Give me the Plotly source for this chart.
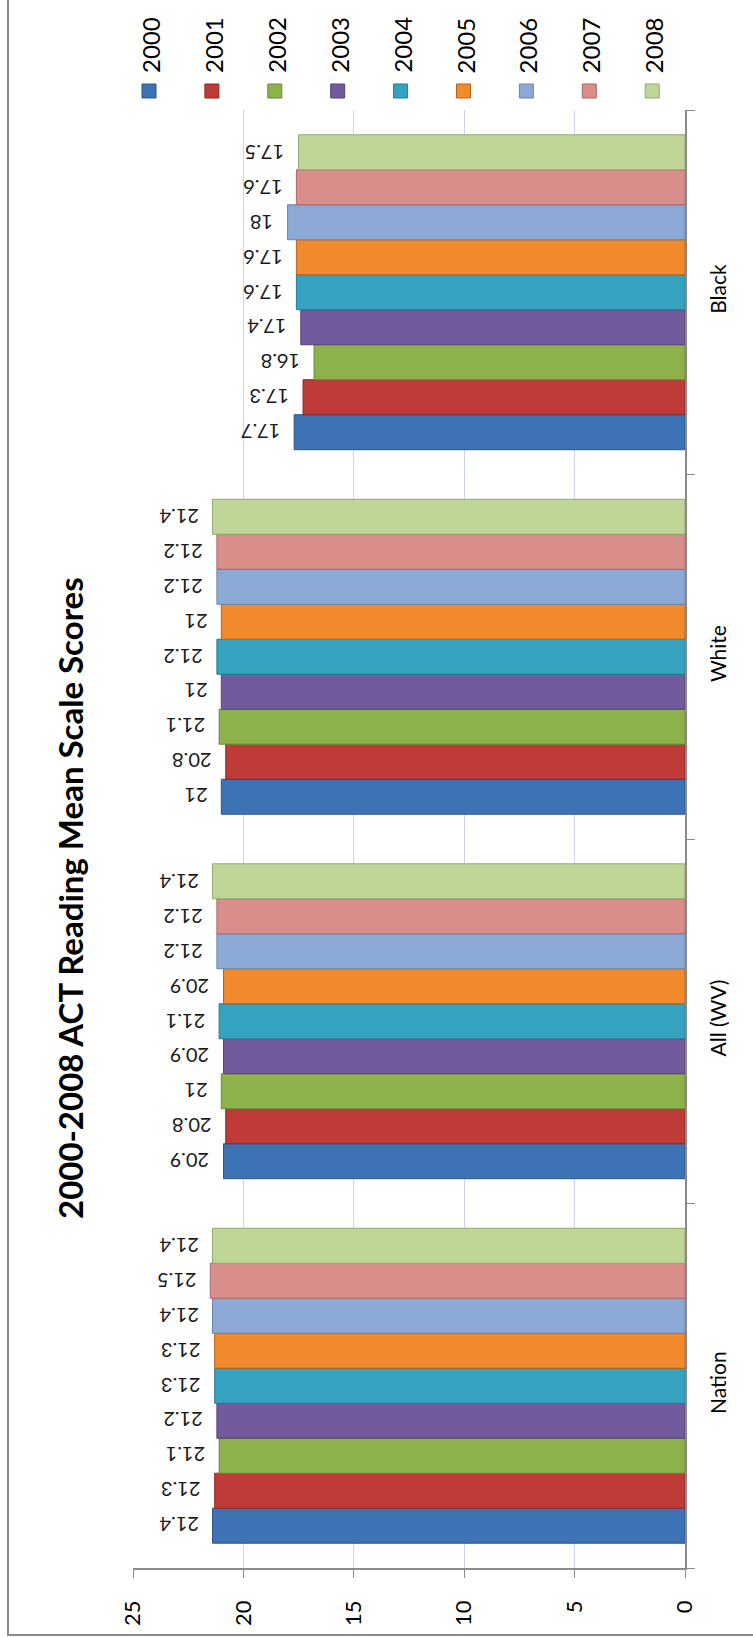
import plotly.graph_objects as go

# ---- data ----
categories = ["Nation", "All (WV)", "White", "Black"]
years = ["2000", "2001", "2002", "2003", "2004", "2005", "2006", "2007", "2008"]
scores_2000 = [21.4, 20.9, 21.0, 17.7]
scores_2001 = [21.3, 20.8, 20.8, 17.3]
scores_2002 = [21.1, 21.0, 21.1, 16.8]
scores_2003 = [21.2, 20.9, 21.0, 17.4]
scores_2004 = [21.3, 21.1, 21.2, 17.6]
scores_2005 = [21.3, 20.9, 21.0, 17.6]
scores_2006 = [21.4, 21.2, 21.2, 18.0]
scores_2007 = [21.5, 21.2, 21.2, 17.6]
scores_2008 = [21.4, 21.4, 21.4, 17.5]
series = [scores_2000, scores_2001, scores_2002, scores_2003, scores_2004,
          scores_2005, scores_2006, scores_2007, scores_2008]
x_ticks = [0, 5, 10, 15, 20, 25]
title_text = "2000-2008 ACT Reading Mean Scale Scores"

colors = ["#3D72B4", "#BE3B38", "#8DB24C", "#735A9C", "#35A3C0",
          "#F08A2C", "#8CA9D6", "#D98E8C", "#BFD698"]
edges = ["#2B5588", "#8E2926", "#6A8A33", "#54407A", "#237C94",
         "#B86117", "#6884AE", "#A86866", "#93AA6E"]

W, H = 753, 1637
ML, MR, MT, MB = 133, 68, 110, 69
PW, PH = W - ML - MR, H - MT - MB
FONT = "Lato, 'Open Sans', sans-serif"
BARGAP = 0.136
N = len(years)
bar_px = PH / len(categories) * (1 - BARGAP) / N


def px_x(px):
    return (px - ML) / PW


def px_y(py):
    return (H - MB - py) / PH


fig = go.Figure()
annotations = []
for i, (yr, vals, c, e) in enumerate(zip(years, series, colors, edges)):
    fig.add_trace(go.Bar(
        y=categories, x=vals, name=yr, orientation="h",
        marker=dict(color=c, line=dict(color=e, width=1)),
        showlegend=False,
    ))
    # upside-down value labels just beyond the bar end
    for cat, v in zip(categories, vals):
        annotations.append(dict(
            text=f"{v:g}", x=v, y=cat, xref="x", yref="y",
            xanchor="right", yanchor="middle", textangle=180,
            xshift=-12, yshift=(i - (N - 1) / 2) * bar_px,
            showarrow=False,
            font=dict(size=20, color="#1a1a1a", family=FONT)))

# legend built from rotated annotations + squares
shapes = []
for i, (yr, c, e) in enumerate(zip(years, colors, edges)):
    cx = 149 + 62.9 * i
    shapes.append(dict(type="rect", xref="paper", yref="paper",
                       x0=px_x(cx - 7), x1=px_x(cx + 7),
                       y0=px_y(98), y1=px_y(84),
                       fillcolor=c, line=dict(color=e, width=1)))
    annotations.append(dict(text=yr, xref="paper", yref="paper",
                            x=px_x(cx + 1), y=px_y(45), textangle=-90,
                            xanchor="center", yanchor="middle", showarrow=False,
                            font=dict(size=24, color="#000000", family=FONT)))

annotations.append(dict(text=f"<b>{title_text}</b>", xref="paper", yref="paper",
                        x=px_x(70), y=px_y(898), textangle=-90,
                        xanchor="center", yanchor="middle", showarrow=False,
                        font=dict(size=33, color="#000000", family=FONT)))

# chart border
shapes.append(dict(type="rect", xref="paper", yref="paper",
                   x0=px_x(8), x1=px_x(770), y0=px_y(1635), y1=px_y(-10),
                   line=dict(color="#8A8A8A", width=2), fillcolor="rgba(0,0,0,0)",
                   layer="above"))

fig.update_layout(
    width=W, height=H,
    margin=dict(l=ML, r=MR, t=MT, b=MB, pad=0),
    paper_bgcolor="white", plot_bgcolor="white",
    barmode="group", bargap=BARGAP, bargroupgap=0,
    showlegend=False,
    shapes=shapes, annotations=annotations,
    font=dict(family=FONT, color="#000000"),
    xaxis=dict(range=[25, 0], tickvals=x_ticks, ticktext=[str(t) for t in x_ticks],
               tickangle=-90, showgrid=True, gridcolor="#C9D5EC", gridwidth=1,
               showline=True, linecolor="#8A8A8A", linewidth=1.5,
               ticks="outside", ticklen=8, tickcolor="#8A8A8A",
               tickfont=dict(size=22, family=FONT, color="#000000"),
               ticklabelstandoff=14, zeroline=False),
    yaxis=dict(categoryorder="array", categoryarray=categories, side="right",
               tickangle=-90, showgrid=False, showline=True, linecolor="#8A8A8A",
               linewidth=1.5, ticks="outside", ticklen=8, tickcolor="#8A8A8A",
               tickson="boundaries", tickfont=dict(size=21, family=FONT, color="#000000"),
               ticklabelstandoff=14),
)

fig.write_html("out.html", config={"displayModeBar": False},
               post_script="document.body.style.margin='0';document.body.style.overflow='hidden';")
